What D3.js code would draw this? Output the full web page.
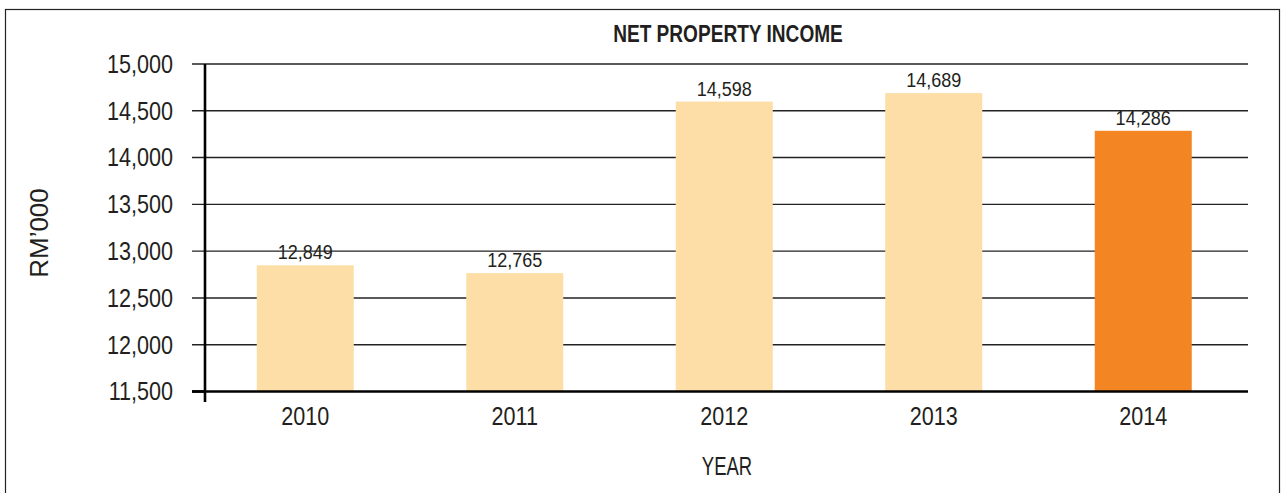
<!DOCTYPE html>
<html><head><meta charset="utf-8">
<script src="https://cdn.jsdelivr.net/npm/d3@7"></script>
<style>
body{margin:0;background:#fff;}
svg{display:block;}
text{font-family:"Liberation Sans",Arial,sans-serif;fill:#231f20;}
</style></head>
<body>
<svg id="chart" width="1282" height="493"></svg>
<script>
const categories = ["2010","2011","2012","2013","2014"];
const values = [12849, 12765, 14598, 14689, 14286];
const yTicks = [11500,12000,12500,13000,13500,14000,14500,15000];
const title = "NET PROPERTY INCOME";
const xTitle = "YEAR";
const yTitle = "RM\u2019000";
const highlight = "2014";

const svg = d3.select("#chart");
const W = 1282, H = 493;

function condense(sel, sx){
  sel.each(function(){
    const t = d3.select(this);
    const x = +t.attr("x") || 0;
    const tr = t.attr("transform") || "";
    t.attr("x", x/sx).attr("transform", (tr + ` scale(${sx},1)`).trim());
  });
}

svg.append("rect").attr("x",5.5).attr("y",9.5).attr("width",1274).attr("height",H)
  .attr("fill","none").attr("stroke","#222").attr("stroke-width",1.2);

const x = d3.scaleBand().domain(categories).range([200.5,1248]).paddingInner(0.537).paddingOuter(0.2685);
const y = d3.scaleLinear().domain([11500,15000]).range([391.5,64]);

// gridlines
svg.append("g").selectAll("line").data(yTicks.filter(t=>t>11500)).join("line")
  .attr("x1",192).attr("x2",1248).attr("y1",d=>y(d)).attr("y2",d=>y(d))
  .attr("stroke","#222").attr("stroke-width",1.4);

// bars
svg.append("g").selectAll("rect").data(categories).join("rect")
  .attr("x",d=>x(d)).attr("width",x.bandwidth())
  .attr("y",(d,i)=>y(values[i])).attr("height",(d,i)=>y(11500)-y(values[i]))
  .attr("fill",d=>d===highlight?"#F38522":"#FDDEA6");

// value labels
const vl = svg.append("g").selectAll("text").data(categories).join("text")
  .attr("x",d=>x(d)+x.bandwidth()/2).attr("y",(d,i)=>y(values[i])-6)
  .attr("text-anchor","middle").attr("font-size",21)
  .text((d,i)=>d3.format(",")(values[i]));
condense(vl, 0.86);

// y axis
const yAxis = d3.axisLeft(y).tickValues(yTicks).tickFormat(d3.format(",")).tickSize(0).tickPadding(32);
const gy = svg.append("g").attr("transform","translate(205,0)").call(yAxis);
gy.select(".domain").remove();
const yt = gy.selectAll("text").attr("font-size",26).style("font-family",null).attr("fill","#231f20");
condense(yt, 0.83);
svg.append("line").attr("x1",205).attr("x2",205).attr("y1",64).attr("y2",402)
  .attr("stroke","#000").attr("stroke-width",2.6);
svg.append("line").attr("x1",192).attr("x2",205).attr("y1",y(11500)).attr("y2",y(11500))
  .attr("stroke","#000").attr("stroke-width",2.6);

// x axis
const xAxis = d3.axisBottom(x).tickSize(0).tickPadding(15);
const gx = svg.append("g").attr("transform",`translate(0,${y(11500)})`).call(xAxis);
gx.select(".domain").remove();
const xt = gx.selectAll("text").attr("font-size",26).style("font-family",null).attr("fill","#231f20");
condense(xt, 0.83);
svg.append("line").attr("x1",192).attr("x2",1248).attr("y1",y(11500)).attr("y2",y(11500))
  .attr("stroke","#000").attr("stroke-width",2.6);

// titles
condense(svg.append("text").attr("x",728).attr("y",42).attr("text-anchor","middle")
  .attr("font-size",23).attr("font-weight","bold").text(title), 0.83);
condense(svg.append("text").attr("x",727).attr("y",475).attr("text-anchor","middle")
  .attr("font-size",25).text(xTitle), 0.74);
svg.append("text").attr("transform","translate(48,233) rotate(-90)").attr("text-anchor","middle")
  .attr("font-size",26).text(yTitle);
</script>
</body></html>
